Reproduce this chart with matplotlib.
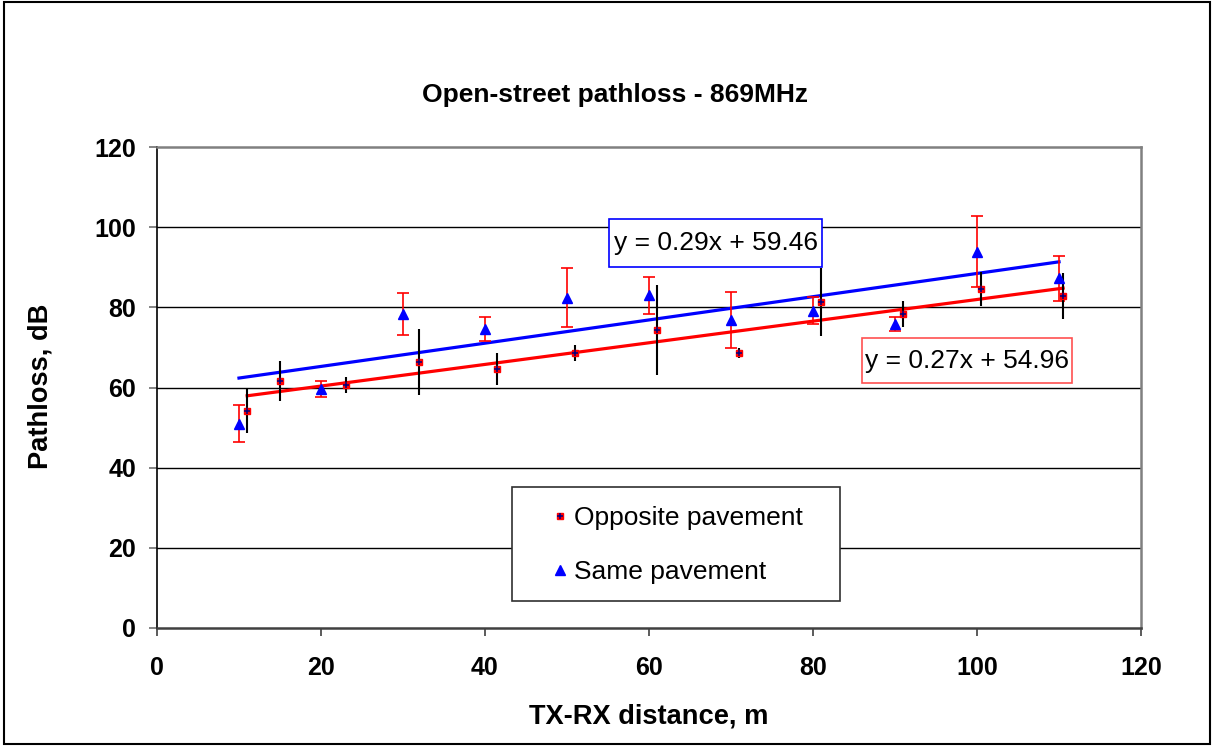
import numpy as np
import matplotlib
matplotlib.use("Agg")
import matplotlib.pyplot as plt
from matplotlib.patches import Rectangle
from matplotlib.legend_handler import HandlerTuple

plt.rcParams['font.family'] = ['Liberation Sans', 'DejaVu Sans']

# Same pavement (blue triangles, red error bars)
same_x = [10, 20, 30, 40, 50, 60, 70, 80, 90, 100, 110]
same_y = [51.0, 59.6, 78.4, 74.6, 82.4, 83.0, 76.8, 79.2, 75.8, 93.9, 87.2]
same_err = [4.7, 2.0, 5.3, 3.0, 7.3, 4.6, 7.0, 3.4, 1.8, 8.8, 5.5]

# Opposite pavement (red squares, black error bars)
opp_x = [11, 15, 23, 32, 41.5, 51, 61, 71, 81, 91, 100.5, 110.5]
opp_y = [54.1, 61.6, 60.6, 66.3, 64.6, 68.6, 74.3, 68.6, 81.3, 78.4, 84.5, 82.8]
opp_err = [5.5, 4.9, 1.9, 8.2, 4.0, 2.0, 11.2, 1.2, 8.5, 3.2, 4.2, 5.7]

# linear trend lines (slope, intercept) as printed on the chart
same_fit = (0.29, 59.46)
opp_fit = (0.27, 54.96)

fig = plt.figure(figsize=(12.14, 7.46), dpi=100)
ax = fig.add_axes([0.1293, 0.1582, 0.8106, 0.6447])

# trend lines
xs = np.array([min(same_x), max(same_x)])
ax.plot(xs, same_fit[0] * xs + same_fit[1], color='#0000ff', lw=2.3, zorder=3)
xo = np.array([min(opp_x), max(opp_x)])
ax.plot(xo, opp_fit[0] * xo + opp_fit[1], color='#ff0000', lw=2.3, zorder=3)

# error bars
ax.errorbar(same_x, same_y, yerr=same_err, fmt='none', ecolor='#ff0000',
            elinewidth=1.2, capsize=4.5, capthick=1.2, zorder=4)
ax.errorbar(opp_x, opp_y, yerr=opp_err, fmt='none', ecolor='black',
            elinewidth=1.5, capsize=0, zorder=4)

# markers
tri, = ax.plot(same_x, same_y, '^', color='#0000ff', ms=7.5, mec='#0000ff',
               ls='none', zorder=5)
sq, = ax.plot(opp_x, opp_y, 's', color='#ff0000', ms=5, mec='#ff0000',
              ls='none', zorder=5)
plus, = ax.plot(opp_x, opp_y, '+', color='#000080', ms=4, mew=1.1,
                ls='none', zorder=6)

ax.set_xlim(0, 120)
ax.set_ylim(0, 120)
ax.set_xticks(range(0, 121, 20))
ax.set_yticks(range(0, 121, 20))
for y in range(20, 120, 20):
    ax.axhline(y, color='black', lw=1.0, zorder=1)

for lab in ax.get_xticklabels() + ax.get_yticklabels():
    lab.set_fontweight('bold')
ax.tick_params(axis='both', labelsize=18, length=6, width=1.2, direction='out')
ax.tick_params(axis='x', pad=14, color='#404040')
ax.tick_params(axis='y', pad=9, color='#707070')

ax.spines['left'].set_color('black')
ax.spines['left'].set_linewidth(1.2)
ax.spines['bottom'].set_color('#404040')
ax.spines['bottom'].set_linewidth(1.8)
ax.spines['top'].set_color('#808080')
ax.spines['top'].set_linewidth(1.8)
ax.spines['right'].set_color('#808080')
ax.spines['right'].set_linewidth(1.8)

# equation boxes
ax.add_patch(Rectangle((0.4593, 0.7505), 0.2165, 0.0998, transform=ax.transAxes,
                       facecolor='white', edgecolor='#0000ff', lw=1.2, zorder=7))
ax.text(0.5676, 0.8004, 'y = 0.29x + 59.46', transform=ax.transAxes,
        ha='center', va='center', fontsize=19, zorder=8)
ax.add_patch(Rectangle((0.7165, 0.5094), 0.2134, 0.0935, transform=ax.transAxes,
                       facecolor='white', edgecolor='#ff5050', lw=1.2, zorder=7))
ax.text(0.8232, 0.5561, 'y = 0.27x + 54.96', transform=ax.transAxes,
        ha='center', va='center', fontsize=19, zorder=8)

# legend with its own frame
ax.add_patch(Rectangle((0.3608, 0.0561), 0.3333, 0.2370, transform=ax.transAxes,
                       facecolor='white', edgecolor='#303030', lw=1.2, zorder=7))
leg = ax.legend([(sq, plus), tri], ['Opposite pavement', 'Same pavement'],
                handler_map={tuple: HandlerTuple(ndivide=1, pad=0)},
                loc='center left', bbox_to_anchor=(0.388, 0.172),
                frameon=False, fontsize=19, handlelength=0.6,
                handletextpad=0.25, labelspacing=1.15, borderpad=0)
leg.set_zorder(9)

fig.text(0.507, 0.8727, 'Open-street pathloss - 869MHz', ha='center', va='center',
         fontsize=19, fontweight='bold')
fig.text(0.534, 0.0389, 'TX-RX distance, m', ha='center', va='center',
         fontsize=19.6, fontweight='bold')
fig.text(0.033, 0.4826, 'Pathloss, dB', ha='center', va='center', rotation=90,
         fontsize=19.6, fontweight='bold')

fig.patches.append(Rectangle((0.003, 0.003), 0.994, 0.994, transform=fig.transFigure,
                             fill=False, edgecolor='black', lw=1.5))

fig.savefig('out.png', dpi=100)
